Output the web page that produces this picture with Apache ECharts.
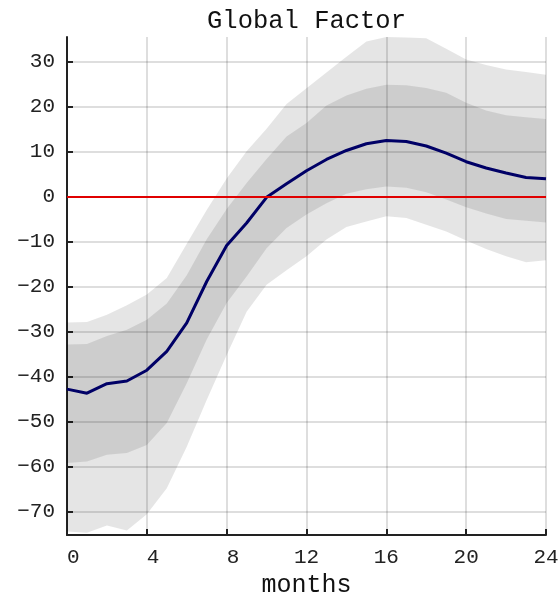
<!DOCTYPE html>
<html>
<head>
<meta charset="utf-8">
<script src="https://cdn.jsdelivr.net/npm/echarts@6/dist/echarts.min.js"></script>
<style>
  html, body { margin: 0; padding: 0; background: #ffffff; }
  #chart { width: 560px; height: 592px; }
</style>
</head>
<body>
<div id="chart"></div>
<script>
// Impulse response of the global factor, by horizon in months
const months = [0, 1, 2, 3, 4, 5, 6, 7, 8, 9, 10, 11, 12, 13, 14, 15, 16, 17, 18, 19, 20, 21, 22, 23, 24];

// Median response
const medianResponse = [-42.8, -43.7, -41.6, -41.0, -38.6, -34.4, -28.1, -18.9, -10.9, -5.9, -0.2, 2.8, 5.7, 8.2, 10.2, 11.7, 12.4, 12.2, 11.2, 9.6, 7.7, 6.3, 5.2, 4.2, 3.9];

// Inner credible band
const innerUpper = [-32.9, -32.8, -31.0, -29.6, -27.4, -23.8, -17.5, -9.5, -2.8, 3.0, 8.3, 13.3, 16.3, 20.2, 22.4, 23.9, 24.8, 24.7, 24.1, 23.0, 20.8, 19.1, 18.0, 17.6, 17.2];
const innerLower = [-59.2, -58.9, -57.4, -57.0, -55.2, -50.3, -41.5, -31.8, -23.7, -17.8, -11.5, -7.0, -4.0, -1.5, 0.6, 1.6, 2.2, 1.9, 0.9, -0.7, -2.4, -3.8, -5.0, -5.4, -5.8];

// Outer credible band
const outerUpper = [-28.0, -27.9, -26.3, -24.2, -21.8, -18.1, -10.5, -3.0, 4.0, 10.0, 15.0, 20.5, 24.0, 27.5, 31.0, 34.4, 35.4, 35.3, 35.1, 32.8, 30.4, 29.2, 28.2, 27.6, 27.0];
const outerLower = [-74.4, -74.7, -73.1, -74.2, -70.6, -64.8, -55.6, -45.2, -35.2, -25.6, -19.6, -16.4, -13.3, -9.6, -6.8, -5.6, -4.4, -4.8, -6.3, -7.8, -9.8, -11.7, -13.3, -14.6, -14.2];

// Axis ticks
const xTicks = [0, 4, 8, 12, 16, 20, 24];
const yTicks = [-70, -60, -50, -40, -30, -20, -10, 0, 10, 20, 30];
const yRange = [-75.2, 35.4];

const FONT = 'Liberation Mono';
const INK = '#222222';

function bandSeries(name, upper, lower, z) {
  return {
    name: name,
    type: 'custom',
    z: z,
    clip: true,
    silent: true,
    data: [0],
    renderItem: function (params, api) {
      const pts = [];
      for (let i = 0; i < months.length; i++) pts.push(api.coord([months[i], upper[i]]));
      for (let i = months.length - 1; i >= 0; i--) pts.push(api.coord([months[i], lower[i]]));
      return {
        type: 'polygon',
        shape: { points: pts },
        style: { fill: 'rgba(0,0,0,0.1)', stroke: null }
      };
    }
  };
}

const chart = echarts.init(document.getElementById('chart'), null, { renderer: 'canvas' });

chart.setOption({
  animation: false,
  backgroundColor: '#ffffff',
  graphic: [{
    type: 'text',
    x: 306.5,
    y: 21,
    style: {
      text: 'Global Factor',
      font: '25.5px "' + FONT + '"',
      fill: '#111111',
      align: 'center',
      verticalAlign: 'middle'
    }
  }],
  grid: { left: 67, right: 14, top: 37, bottom: 57, containLabel: false, outerBoundsMode: 'none' },
  xAxis: {
    type: 'value',
    min: 0,
    max: 24,
    interval: 4,
    name: 'months',
    nameLocation: 'middle',
    nameGap: 27,
    nameTextStyle: { fontFamily: FONT, fontSize: 25, color: '#111111' },
    axisLine: { show: true, onZero: false, lineStyle: { color: INK, width: 2 } },
    axisTick: { show: true, inside: true, length: 6, lineStyle: { color: INK, width: 2 } },
    axisLabel: {
      fontFamily: FONT, fontSize: 21, color: INK, margin: 12,
      customValues: xTicks,
      // fixed two-character width, so single digits sit right of the tick
      formatter: function (v) { return v < 10 ? ' ' + v : String(v); }
    },
    splitLine: { show: true, lineStyle: { color: 'rgba(0,0,0,0.13)', width: 2 } }
  },
  yAxis: {
    type: 'value',
    min: yRange[0],
    max: yRange[1],
    splitNumber: 11,
    axisLine: { show: true, onZero: false, lineStyle: { color: INK, width: 2 } },
    axisTick: { show: true, inside: true, length: 6, lineStyle: { color: INK, width: 2 },
                customValues: yTicks },
    axisLabel: {
      fontFamily: FONT, fontSize: 21, color: INK, margin: 12,
      customValues: yTicks,
      formatter: function (v) { return String(v).replace('-', '\u2212'); }
    },
    splitLine: { show: true, lineStyle: { color: 'rgba(0,0,0,0.13)', width: 2 } }
  },
  series: [
    bandSeries('outer band', outerUpper, outerLower, 1),
    bandSeries('inner band', innerUpper, innerLower, 2),
    {
      name: 'zero',
      type: 'line',
      z: 3,
      data: [],
      silent: true,
      markLine: {
        silent: true,
        symbol: 'none',
        label: { show: false },
        lineStyle: { color: '#e00000', width: 2, type: 'solid' },
        data: [{ yAxis: 0 }]
      }
    },
    {
      name: 'median',
      type: 'line',
      z: 4,
      data: months.map((m, i) => [m, medianResponse[i]]),
      showSymbol: false,
      symbol: 'none',
      lineStyle: { color: '#000066', width: 3 }
    }
  ]
});
</script>
</body>
</html>
